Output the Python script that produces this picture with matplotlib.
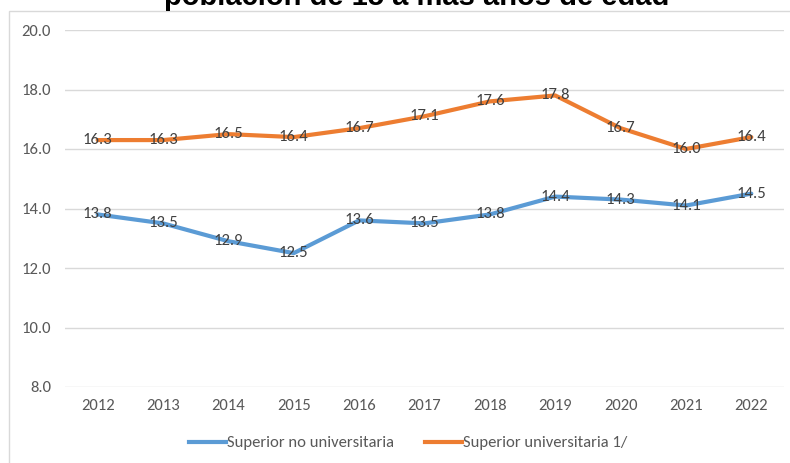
import matplotlib
matplotlib.use("Agg")
import matplotlib.pyplot as plt
from matplotlib import font_manager as fm
from matplotlib.patches import Rectangle
from matplotlib.lines import Line2D

years = ["2012", "2013", "2014", "2015", "2016", "2017", "2018", "2019", "2020", "2021", "2022"]
no_univ = [13.8, 13.5, 12.9, 12.5, 13.6, 13.5, 13.8, 14.4, 14.3, 14.1, 14.5]
univ = [16.3, 16.3, 16.5, 16.4, 16.7, 17.1, 17.6, 17.8, 16.7, 16.0, 16.4]
series_names = ["Superior no universitaria", "Superior universitaria 1/"]
title = "población de 15 a más años de edad"
yticks = [8.0, 10.0, 12.0, 14.0, 16.0, 18.0, 20.0]

W, H = 790, 463
fig = plt.figure(figsize=(W / 100, H / 100), dpi=100)

available = {f.name for f in fm.fontManager.ttflist}
if "Carlito" in available:
    font = ["Carlito", "DejaVu Sans"]
    FS = 12
else:
    font = ["IBM Plex Sans Condensed", "DejaVu Sans"]
    FS = 12
grey_txt = "#595959"

# chart border
fig.patches.append(Rectangle((9 / W, -0.1), 1.0, 1 - 11 / H + 0.1, transform=fig.transFigure,
                             fill=False, edgecolor="#D9D9D9", linewidth=1.0))

# title (partially clipped at top, as in the reference)
fig.text(417 / W, 1 - 5 / H, title, ha="center", va="baseline", fontsize=21,
         fontweight="bold", family="Liberation Sans", color="black")

ax = fig.add_axes([65 / W, 1 - 387 / H, (784 - 65) / W, (387 - 30) / H])
x = list(range(len(years)))
colors = ["#5B9BD5", "#ED7D31"]
for vals, c, name in zip([no_univ, univ], colors, series_names):
    ax.plot(x, vals, color=c, linewidth=3.0, solid_capstyle="round", label=name, zorder=3)
    for xi, v in zip(x, vals):
        ax.text(xi, v, f"{v:.1f}", ha="center", va="center", fontsize=FS,
                family=font, color="#404040", zorder=4)

ax.set_ylim(8, 20)
ax.set_xlim(-0.5, 10.5)
ax.set_yticks(yticks)
ax.set_yticklabels([f"{t:.1f}" for t in yticks], family=font, fontsize=FS, color=grey_txt)
ax.set_xticks(x)
ax.set_xticklabels(years, family=font, fontsize=FS, color=grey_txt)
ax.tick_params(axis="both", length=0)
ax.tick_params(axis="y", pad=10)
ax.tick_params(axis="x", pad=9)
ax.grid(axis="y", color="#D9D9D9", linewidth=1.0)
ax.set_axisbelow(True)
for s in ax.spines.values():
    s.set_visible(False)

handles = [Line2D([0], [0], color=c, linewidth=3.0) for c in colors]
leg = fig.legend(handles, series_names, loc="center", bbox_to_anchor=(408 / W, 1 - 443 / H),
                 ncol=2, frameon=False, handlelength=2.2, handletextpad=0.05, columnspacing=1.9,
                 borderpad=0, prop={"family": font, "size": FS})
for t in leg.get_texts():
    t.set_color(grey_txt)

fig.savefig("out.png", dpi=100)
